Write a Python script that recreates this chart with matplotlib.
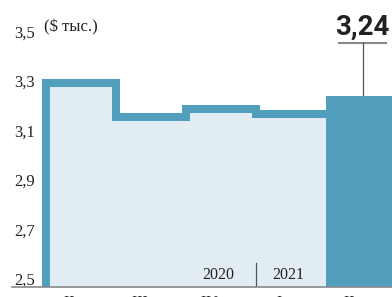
import matplotlib
matplotlib.use("Agg")
import matplotlib.pyplot as plt

# quarterly values, $ thousand
quarters = ["II кв.", "III кв.", "IV кв.", "I кв.", "II кв."]
values = [3.292, 3.155, 3.187, 3.167, 3.24]
years = ["2020", "2021"]
yticks = [2.5, 2.7, 2.9, 3.1, 3.3, 3.5]
ytick_labels = ["2,5", "2,7", "2,9", "3,1", "3,3", "3,5"]
last_label = "3,24"

light = "#e1edf3"
blue = "#519fbd"
ybot, ytop = 2.468, 3.627

plt.rcParams["font.family"] = ["Liberation Serif", "DejaVu Serif"]

fig = plt.figure(figsize=(3.92, 2.97), dpi=100)
ax = fig.add_axes([46 / 392, 10 / 297, 346 / 392, 287 / 297])
ax.set_xlim(0, 346 / 70)
ax.set_ylim(ybot, ytop)

# light step area for previous quarters
n = len(values) - 1
xs = list(range(n + 1))
ys = values[:n] + [values[n - 1]]
ax.fill_between(xs, ybot, ys, step="post", color=light, lw=0, zorder=1)

# thick step outline
px, py = [0], [ybot]
for i in range(n):
    px += [i, i + 1]
    py += [values[i], values[i]]
ax.plot(px, py, color=blue, lw=5.8, solid_joinstyle="miter",
        solid_capstyle="butt", clip_on=False, zorder=2)

# current quarter bar
ax.bar(n + 0.5, values[n] - ybot, bottom=ybot, width=1, color=blue, lw=0, zorder=3)

# value label with leader
ax.text(4.514, 3.518, last_label, ha="center", va="center", fontsize=20,
        fontweight="bold", family=["Roboto", "DejaVu Sans"], color="#222222")
ax.plot([4.171, 4.871], [3.454, 3.454], color="#888888", lw=1.5, solid_capstyle="butt")
ax.plot([4.529, 4.529], [3.454, values[n]], color="#555555", lw=0.9)

# year split
ax.plot([3, 3], [2.565, ybot], color="#555555", lw=0.9, zorder=4)
ax.text(2.457, 2.516, years[0], ha="center", va="center", fontsize=11.5, color="#222222", zorder=4)
ax.text(3.457, 2.516, years[1], ha="center", va="center", fontsize=11.5, color="#222222", zorder=4)

# baseline
ax.plot([-34 / 70, 346 / 70], [ybot, ybot], color="#888888", lw=1.2, clip_on=False, zorder=5)

# y labels
ax.set_yticks(yticks)
ax.set_yticklabels(ytick_labels)
ax.tick_params(axis="y", length=0, pad=8, labelsize=12, labelcolor="#222222")
ax.text(-2 / 70, 3.518, "($ тыс.)", ha="left", va="center", fontsize=12, color="#222222")

# quarter labels (cut by the figure edge)
ax.set_xticks([])
for i, q in enumerate(quarters):
    ax.text(i + 0.5, 2.437, q, ha="center", va="top", fontsize=11.5,
            color="#222222", clip_on=False)

for s in ax.spines.values():
    s.set_visible(False)
ax.patch.set_visible(False)

fig.savefig("out.png", dpi=100)
